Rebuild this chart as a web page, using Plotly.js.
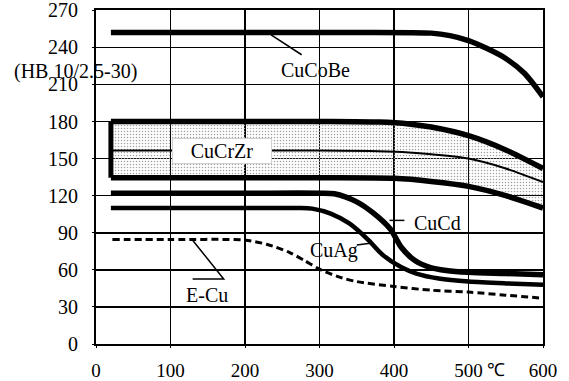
<!DOCTYPE html>
<html>
<head>
<meta charset="utf-8">
<script src="https://cdn.plot.ly/plotly-3.0.1.min.js"></script>
<style>html,body{margin:0;padding:0;background:#fff;}#chart{width:569px;height:381px;}</style>
</head>
<body>
<div id="chart"></div>
<script>
// ---- data ----
const xTicks = [0, 100, 200, 300, 400, 500, 600];
const yTicks = [0, 30, 60, 90, 120, 150, 180, 210, 240, 270];

const cuCoBeX = [20, 300, 450, 475, 500, 525, 550, 575, 600];
const cuCoBeY = [252, 252, 251.5, 249.5, 245.5, 239, 231, 219, 200];

const cuCrZrTopX = [20, 300, 380, 420, 450, 500, 550, 600];
const cuCrZrTopY = [180, 180, 179.5, 178, 175.5, 168.5, 157, 142];
const cuCrZrMidX = [20, 300, 380, 420, 450, 500, 550, 600];
const cuCrZrMidY = [156.5, 156.5, 156, 155, 153.5, 150, 142, 131];
const cuCrZrLowX = [20, 300, 400, 450, 500, 550, 600];
const cuCrZrLowY = [134.5, 134.5, 134, 131.5, 127.5, 120, 110];
const cuCrZrEdgeX = [20, 20];
const cuCrZrEdgeY = [134.5, 180];

const cuCdX = [20, 200, 300, 320, 350, 372, 395, 410, 428, 448, 470, 500, 550, 600];
const cuCdY = [122, 122, 122, 121.5, 115, 106, 93, 78, 67.5, 62, 59.5, 58, 57, 56];

const cuAgX = [20, 200, 270, 290, 315, 340, 365, 385, 410, 430, 460, 500, 550, 600];
const cuAgY = [110, 110, 110, 109.5, 105.5, 97.5, 84.5, 72, 62, 57, 53, 50.5, 49, 48];

const eCuX = [22, 100, 200, 230, 260, 280, 300, 325, 350, 400, 450, 500, 550, 600];
const eCuY = [84.5, 84.5, 84, 80.5, 74, 67.5, 60.5, 54.5, 50.5, 46.5, 43.5, 42, 39.5, 37];

const seriesLabels = ['CuCoBe', 'CuCrZr', 'CuCd', 'CuAg', 'E-Cu'];

// ---- traces ----
const serif = "'Liberation Serif', 'Times New Roman', serif";
const sp = {shape: 'spline', smoothing: 0.8};
const traces = [
  {x: cuCrZrLowX, y: cuCrZrLowY, mode: 'lines', line: Object.assign({color: 'rgba(0,0,0,0)', width: 0}, sp), hoverinfo: 'skip'},
  {x: cuCrZrTopX, y: cuCrZrTopY, mode: 'lines', fill: 'tonexty', fillcolor: 'rgba(0,0,0,0.06)',
   fillpattern: {shape: '.', fgcolor: '#a0a0a0', bgcolor: 'rgba(0,0,0,0)', size: 3, solidity: 0.2},
   line: Object.assign({color: 'rgba(0,0,0,0)', width: 0}, sp), hoverinfo: 'skip'},
  {x: cuCoBeX, y: cuCoBeY, mode: 'lines', name: seriesLabels[0], line: Object.assign({color: '#000', width: 5.5}, sp)},
  {x: cuCrZrTopX, y: cuCrZrTopY, mode: 'lines', name: seriesLabels[1], line: Object.assign({color: '#000', width: 5.5}, sp)},
  {x: cuCrZrMidX, y: cuCrZrMidY, mode: 'lines', line: Object.assign({color: '#000', width: 2}, sp)},
  {x: cuCrZrLowX, y: cuCrZrLowY, mode: 'lines', line: Object.assign({color: '#000', width: 5.5}, sp)},
  {x: cuCrZrEdgeX, y: cuCrZrEdgeY, mode: 'lines', line: {color: '#000', width: 5}},
  {x: cuCdX, y: cuCdY, mode: 'lines', name: seriesLabels[2], line: Object.assign({color: '#000', width: 5.5}, sp)},
  {x: cuAgX, y: cuAgY, mode: 'lines', name: seriesLabels[3], line: Object.assign({color: '#000', width: 4.5}, sp)},
  {x: eCuX, y: eCuY, mode: 'lines', name: seriesLabels[4], line: Object.assign({color: '#000', width: 3, dash: '7px,4px'}, sp)}
];

const tf = {family: serif, size: 20, color: '#000'};
const ann = (text, x, y, extra) => Object.assign({text: text, x: x, y: y, xref: 'x', yref: 'y', xanchor: 'center', yanchor: 'middle', showarrow: false, font: tf}, extra || {});

const layout = {
  width: 569, height: 381,
  margin: {l: 96, r: 26, t: 10, b: 37},
  paper_bgcolor: '#fff', plot_bgcolor: '#fff',
  showlegend: false,
  xaxis: {range: [0, 600], tickvals: xTicks, ticktext: xTicks.map(String), showgrid: true, gridcolor: '#000', gridwidth: 1.5,
          showline: true, mirror: true, linecolor: '#000', linewidth: 2, zeroline: false, ticklabeloverflow: 'allow',
          ticks: 'outside', ticklen: 2, tickcolor: '#000', ticklabelstandoff: 6, tickfont: {family: serif, size: 19, color: '#000'}, fixedrange: true},
  yaxis: {range: [0, 270.2], tickvals: yTicks, ticktext: yTicks.map(String), showgrid: true, gridcolor: '#000', gridwidth: 1.5,
          showline: true, mirror: true, linecolor: '#000', linewidth: 2, zeroline: false, ticklabeloverflow: 'allow',
          ticks: 'outside', ticklen: 2, tickcolor: '#000', ticklabelstandoff: 10, tickfont: tf, fixedrange: true},
  annotations: [
    ann(seriesLabels[0], 294, 221.5),
    ann('(HB 10/2.5-30)', -0.046, 0.815, {xref: 'paper', yref: 'paper', font: {family: serif, size: 20, color: '#000'}}),
    ann(seriesLabels[1], 169, 156, {bgcolor: '#fff', bordercolor: '#d0d0d0', borderwidth: 1, borderpad: 1, width: 96, height: 22}),
    ann(seriesLabels[2], 458, 98),
    ann(seriesLabels[3], 320, 76),
    ann(seriesLabels[4], 149, 39.5),
    ann('℃', 537, -0.078, {yref: 'paper', font: {family: serif, size: 18, color: '#000'}})
  ],
  shapes: [
    {type: 'line', xref: 'x', yref: 'y', x0: 235, y0: 250, x1: 276, y1: 234, line: {color: '#000', width: 1.5}},
    {type: 'line', xref: 'x', yref: 'y', x0: 394, y0: 100, x1: 414, y1: 100, line: {color: '#000', width: 1.5}},
    {type: 'line', xref: 'x', yref: 'y', x0: 350, y0: 80, x1: 368, y1: 81.5, line: {color: '#000', width: 1.5}},
    {type: 'path', xref: 'x', yref: 'y', path: 'M 129.7 84 L 171.4 52.5 L 129.7 52.5', line: {color: '#000', width: 1.5}}
  ]
};

Plotly.newPlot('chart', traces, layout, {displayModeBar: false, staticPlot: true});
</script>
</body>
</html>
